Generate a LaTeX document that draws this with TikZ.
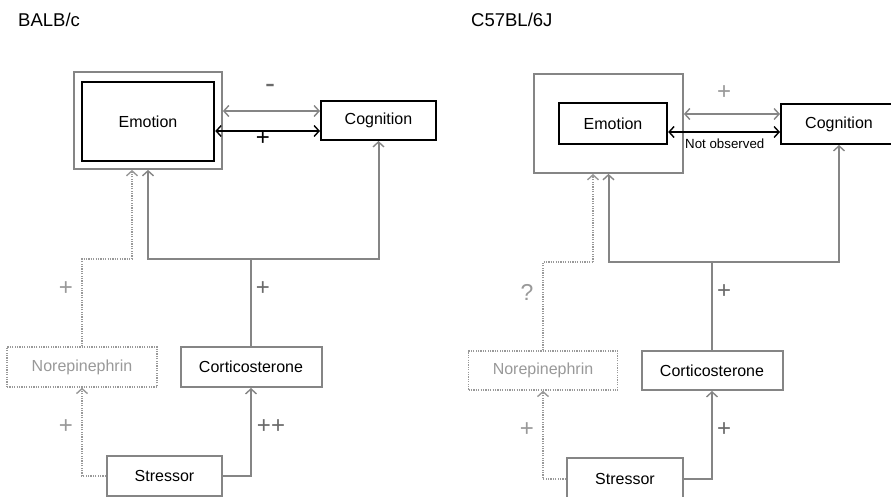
\documentclass[tikz,border=0pt]{standalone}
\usepackage{fontspec}
\setmainfont{Liberation Sans}
\usetikzlibrary{arrows.meta}
\definecolor{lgray}{HTML}{858585}
\definecolor{dgray}{HTML}{999999}
\definecolor{tgray}{HTML}{999999}
\definecolor{pgray}{HTML}{6A6A6A}
\begin{document}
\begin{tikzpicture}[x=1pt,y=-1pt,
  tip/.style={-{Straight Barb[length=5pt,width=11pt,line width=1.4pt]}},
  dtip/.style={{Straight Barb[length=5pt,width=11pt,line width=1.4pt]}-{Straight Barb[length=5pt,width=11pt,line width=1.4pt]}},
  boxtxt/.style={font=\fontsize{16}{19}\selectfont, inner sep=0pt},
  outerbox/.style={draw=lgray, line width=1.8pt, inner sep=0pt},
  emobox/.style={boxtxt, draw=black, line width=2.5pt},
  cogbox/.style={boxtxt, draw=black, line width=2pt},
  graybox/.style={boxtxt, draw=lgray, line width=2pt},
  dotbox/.style={boxtxt, draw=dgray, line width=1.4pt, dash pattern=on 1.2pt off 1.2pt, text=tgray},
  gline/.style={draw=lgray, line width=2pt},
  dline/.style={draw=dgray, line width=1.4pt, dash pattern=on 1.2pt off 1.2pt},
  bline/.style={draw=black, line width=1.8pt},
  sign/.style={font=\fontsize{24}{24}\selectfont, text=pgray, inner sep=0pt},
  title/.style={font=\fontsize{18.5}{20}\selectfont, inner sep=0pt, anchor=base west}
]
\useasboundingbox[fill=white] (0,0) rectangle (891,497);

% ---------------- left panel: BALB/c ----------------
\node[title] (tL) at (18,27) {BALB/c};
\node[outerbox, minimum width=148pt, minimum height=97pt] (oL) at (148,120.5) {};
\node[emobox, minimum width=132pt, minimum height=79pt] (eL) at (148,121.5) {Emotion};
\node[cogbox, minimum width=115pt, minimum height=39pt] (gL) at (378.5,120.5) {Cognition};
\node[dotbox, minimum width=150pt, minimum height=40pt] (nL) at (82,367) {Norepinephrin};
\node[graybox, minimum width=141pt, minimum height=40pt] (cL) at (251,367) {Corticosterone};
\node[graybox, minimum width=115pt, minimum height=40pt] (sL) at (164.5,476) {Stressor};

\coordinate (yL1) at (0,111);
\coordinate (yL2) at (0,131);
\coordinate (yJL) at (0,259);
\coordinate (dLx) at (132,0);

\draw[gline, dtip] (oL.east |- yL1) -- (gL.west |- yL1);
\draw[bline, dtip] (eL.east |- yL2) -- (gL.west |- yL2);
\node[sign, font=\fontsize{30}{30}\selectfont] (mL) at (270,89) {-};
\node[sign, text=black] (pL) at (263,139) {+};

\draw[gline, tip] (sL.east) -| (cL.south);
\draw[gline] (cL.north) -- (cL.north |- yJL) coordinate (jL);
\draw[gline, tip] (jL) -| (oL.south);
\draw[gline, tip] (jL) -| (gL.south);
\draw[dline, tip] (sL.west) -| (nL.south);
\draw[dline] (nL.north) -- (nL.north |- yJL) -- (dLx |- yJL) coordinate (dL2);
\draw[dline, tip] (dL2) -- (dLx |- oL.south);

\node[sign, text=tgray] (p1) at (66,289) {+};
\node[sign, text=tgray] (p2) at (66,427) {+};
\node[sign] (p3) at (263,289) {+};
\node[sign] (p4) at (271,427) {++};

% ---------------- right panel: C57BL/6J ----------------
\node[title] (tR) at (471,27) {C57BL/6J};
\node[outerbox, minimum width=149pt, minimum height=99pt] (oR) at (608.5,123.5) {};
\node[emobox, line width=2.3pt, minimum width=108pt, minimum height=41pt] (eR) at (613,123.5) {Emotion};
\node[cogbox, minimum width=116pt, minimum height=40pt] (gR) at (839,124) {Cognition};
\node[dotbox, minimum width=149pt, minimum height=39pt] (nR) at (543,370.5) {Norepinephrin};
\node[graybox, minimum width=141pt, minimum height=39pt] (cR) at (712,370.5) {Corticosterone};
\node[graybox, minimum width=116pt, minimum height=42pt] (sR) at (625,479) {Stressor};

\coordinate (yR1) at (0,114);
\coordinate (yR2) at (0,132);
\coordinate (yJR) at (0,262);
\coordinate (dRx) at (593,0);

\draw[gline, dtip] (oR.east |- yR1) -- (gR.west |- yR1);
\draw[bline, dtip] (eR.east |- yR2) -- (gR.west |- yR2);
\node[sign, text=tgray] (pR0) at (724,93) {+};
\node[font=\fontsize{13.3}{14}\selectfont, inner sep=0pt, anchor=west] (noR) at (685,144) {Not observed};

\draw[gline, tip] (sR.east) -| (cR.south);
\draw[gline] (cR.north) -- (cR.north |- yJR) coordinate (jR);
\draw[gline, tip] (jR) -| (oR.south);
\draw[gline, tip] (jR) -| (gR.south);
\draw[dline, tip] (sR.west) -| (nR.south);
\draw[dline] (nR.north) -- (nR.north |- yJR) -- (dRx |- yJR) coordinate (dR2);
\draw[dline, tip] (dR2) -- (dRx |- oR.south);

\node[sign, text=tgray, font=\fontsize{23}{23}\selectfont] (q1) at (527,292) {?};
\node[sign, text=tgray] (q2) at (527,430) {+};
\node[sign] (q3) at (724,292) {+};
\node[sign] (q4) at (724,430) {+};
\end{tikzpicture}
\end{document}
